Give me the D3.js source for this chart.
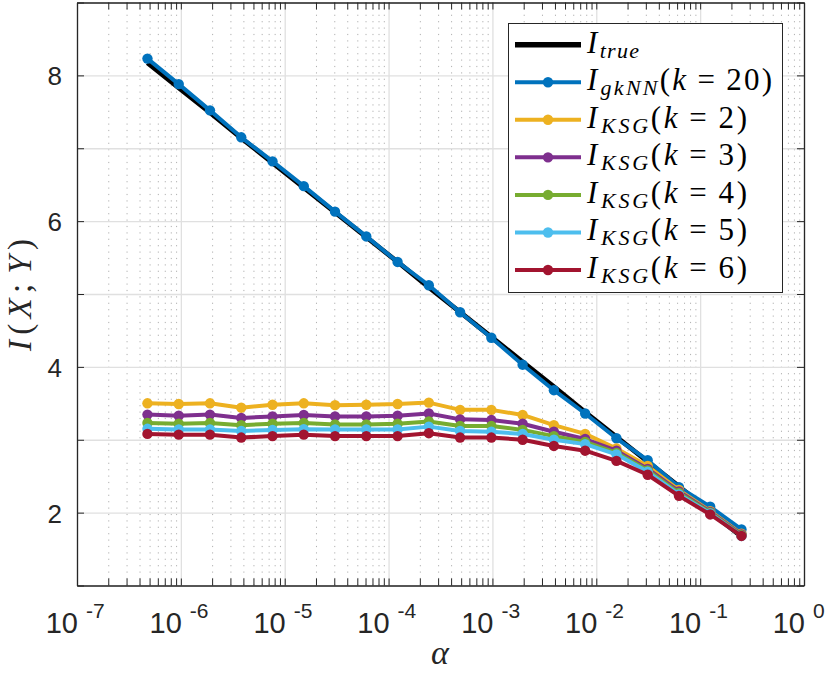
<!DOCTYPE html>
<html><head><meta charset="utf-8">
<script src="https://cdn.jsdelivr.net/npm/d3@7/dist/d3.min.js"></script>
<style>body{margin:0;background:#fff}svg{display:block}</style>
</head><body><svg id="c" width="830" height="673"></svg>
<script>
const alpha = [4.768e-7, 9.537e-7, 1.907e-6, 3.815e-6, 7.629e-6, 1.526e-5, 3.052e-5, 6.104e-5, 1.221e-4, 2.441e-4,
               4.883e-4, 9.766e-4, 1.953e-3, 3.906e-3, 7.813e-3, 1.563e-2, 3.125e-2, 6.25e-2, 0.125, 0.25];
const iTrue = [8.17, 7.83, 7.49, 7.14, 6.80, 6.46, 6.12, 5.78, 5.44, 5.09, 4.75, 4.41, 4.07, 3.73, 3.38, 3.04, 2.70, 2.36, 2.01, 1.67];
const iGkNN = [8.23, 7.88, 7.52, 7.15, 6.82, 6.48, 6.13, 5.79, 5.44, 5.12, 4.75, 4.40, 4.03, 3.68, 3.36, 3.02, 2.72, 2.35, 2.08, 1.77];
const iKSG2 = [3.50, 3.49, 3.50, 3.44, 3.48, 3.50, 3.475, 3.48, 3.49, 3.51, 3.41, 3.41, 3.34, 3.20, 3.08, 2.88, 2.64, 2.31, 2.02, 1.71];
const iKSG3 = [3.345, 3.33, 3.345, 3.30, 3.32, 3.34, 3.32, 3.32, 3.33, 3.36, 3.28, 3.27, 3.22, 3.11, 3.01, 2.85, 2.60, 2.29, 2.01, 1.70];
const iKSG4 = [3.23, 3.22, 3.23, 3.20, 3.22, 3.23, 3.21, 3.21, 3.22, 3.25, 3.19, 3.19, 3.135, 3.05, 2.97, 2.82, 2.58, 2.27, 2.00, 1.69];
const iKSG5 = [3.15, 3.14, 3.14, 3.12, 3.135, 3.145, 3.14, 3.14, 3.14, 3.18, 3.12, 3.11, 3.08, 3.00, 2.94, 2.80, 2.56, 2.25, 1.99, 1.68];
const iKSG6 = [3.08, 3.07, 3.07, 3.03, 3.05, 3.07, 3.05, 3.05, 3.05, 3.09, 3.03, 3.03, 3.00, 2.915, 2.85, 2.71, 2.52, 2.23, 1.975, 1.68];
const xMajor = [1e-7, 1e-6, 1e-5, 1e-4, 1e-3, 1e-2, 1e-1, 1];
const xExp = ["-7", "-6", "-5", "-4", "-3", "-2", "-1", "0"];
const yTicks = [1, 2, 3, 4, 5, 6, 7, 8, 9];
const yLabels = ["", "2", "", "4", "", "6", "", "8", ""];
const seriesNames = [["true", ""], ["gkNN", "20"], ["KSG", "2"], ["KSG", "3"], ["KSG", "4"], ["KSG", "5"], ["KSG", "6"]];
const colors = ["#000000", "#0072BD", "#EDB120", "#7E2F8E", "#77AC30", "#4DBEEE", "#A2142F"];

const L = 77, R = 804, T = 2.5, B = 585.5;
const svg = d3.select("#c");
const x = d3.scaleLog().domain([1e-7, 1]).range([L, R]);
const y = d3.scaleLinear().domain([1, 9]).range([B, T]);

const xMinor = [];
for (let k = -7; k < 0; k++) for (let m = 2; m <= 9; m++) xMinor.push(m * Math.pow(10, k));

// grid
const grid = svg.append("g");
grid.append("g").attr("transform", `translate(0,${B})`)
  .call(d3.axisBottom(x).tickValues(xMinor).tickSize(-(B - T)).tickFormat(""))
  .call(g => g.select(".domain").remove())
  .selectAll("line").attr("stroke", "#b0b0b0").attr("stroke-width", 1).attr("stroke-dasharray", "1.2,5.2");
grid.append("g").attr("transform", `translate(0,${B})`)
  .call(d3.axisBottom(x).tickValues(xMajor).tickSize(-(B - T)).tickFormat(""))
  .call(g => g.select(".domain").remove())
  .selectAll("line").attr("stroke", "#e0e0e0").attr("stroke-width", 1.3);
grid.append("g").attr("transform", `translate(${L},0)`)
  .call(d3.axisLeft(y).tickValues(yTicks).tickSize(-(R - L)).tickFormat(""))
  .call(g => g.select(".domain").remove())
  .selectAll("line").attr("stroke", "#e0e0e0").attr("stroke-width", 1.3);

// data
const all = [iTrue, iGkNN, iKSG2, iKSG3, iKSG4, iKSG5, iKSG6];
const line = d3.line().x((d, i) => x(alpha[i])).y(d => y(d));
const plot = svg.append("g");
all.forEach((s, si) => {
  plot.append("path").datum(s).attr("d", line).attr("fill", "none")
    .attr("stroke", colors[si]).attr("stroke-width", si === 0 ? 4.8 : 4.0)
    .attr("stroke-linejoin", "round");
  if (si > 0) {
    plot.selectAll(null).data(s).enter().append("circle")
      .attr("cx", (d, i) => x(alpha[i])).attr("cy", d => y(d)).attr("r", 5.2)
      .attr("fill", colors[si]);
  }
});

// axes
const axc = "#262626";
function styleAx(g) { g.selectAll("line").attr("stroke", axc); g.select(".domain").attr("stroke", axc).attr("stroke-width", 1.3); }
const allX = xMajor.concat(xMinor);
svg.append("g").attr("transform", `translate(0,${B})`)
  .call(d3.axisBottom(x).tickValues(allX).tickSizeInner(-7).tickSizeOuter(0).tickFormat("")).call(styleAx);
svg.append("g").attr("transform", `translate(0,${T})`)
  .call(d3.axisTop(x).tickValues(allX).tickSizeInner(-7).tickSizeOuter(0).tickFormat("")).call(styleAx);
svg.append("g").attr("transform", `translate(${L},0)`)
  .call(d3.axisLeft(y).tickValues(yTicks).tickSizeInner(-7).tickSizeOuter(0).tickFormat("")).call(styleAx);
svg.append("g").attr("transform", `translate(${R},0)`)
  .call(d3.axisRight(y).tickValues(yTicks).tickSizeInner(-7).tickSizeOuter(0).tickFormat("")).call(styleAx);

// tick labels
const tl = svg.append("g").attr("font-family", "Liberation Sans, Arial, sans-serif").attr("fill", "#262626");
xMajor.forEach((v, i) => {
  tl.append("text").attr("x", x(v) + 1).attr("y", 633).attr("text-anchor", "end").attr("font-size", 29).text("10");
  tl.append("text").attr("x", x(v) + 9).attr("y", 618).attr("text-anchor", "start").attr("font-size", 21).text(xExp[i]);
});
yTicks.forEach((v, i) => {
  if (yLabels[i]) tl.append("text").attr("x", 62).attr("y", y(v) + 10).attr("text-anchor", "end").attr("font-size", 26).text(yLabels[i]);
});

// axis labels
const serif = "Liberation Serif, Times New Roman, serif";
svg.append("text").attr("x", 440).attr("y", 664).attr("text-anchor", "middle")
  .attr("font-family", serif).attr("font-style", "italic").attr("font-size", 34).attr("fill", "#262626").text("α");
const yl = svg.append("text").attr("transform", "translate(31,295) rotate(-90)").attr("text-anchor", "middle")
  .attr("font-family", serif).attr("font-size", 33).attr("fill", "#262626")
  .attr("textLength", 112).attr("lengthAdjust", "spacing");
yl.append("tspan").attr("font-style", "italic").text("I");
yl.append("tspan").text("(");
yl.append("tspan").attr("font-style", "italic").text("X");
yl.append("tspan").text(";");
yl.append("tspan").attr("font-style", "italic").attr("dx", 5).text("Y");
yl.append("tspan").text(")");

// legend
const lg = svg.append("g");
lg.append("rect").attr("x", 508.5).attr("y", 23.5).attr("width", 274).attr("height", 269)
  .attr("fill", "#fff").attr("stroke", axc).attr("stroke-width", 1);
const lenTarget = [52, 185, 160, 160, 160, 160, 160];
seriesNames.forEach((nm, i) => {
  const ly = 44.7 + i * 37.55;
  lg.append("line").attr("x1", 515).attr("x2", 581).attr("y1", ly).attr("y2", ly)
    .attr("stroke", colors[i]).attr("stroke-width", i === 0 ? 5.5 : 4.0);
  if (i > 0) lg.append("circle").attr("cx", 548).attr("cy", ly).attr("r", 5.2).attr("fill", colors[i]);
  const t = lg.append("text").attr("x", 587).attr("y", ly + 8).attr("font-family", serif)
    .attr("font-size", 31).attr("fill", "#000")
    .attr("textLength", lenTarget[i]).attr("lengthAdjust", "spacing");
  t.append("tspan").attr("font-style", "italic").text("I");
  t.append("tspan").attr("font-style", "italic").attr("font-size", 22).attr("dy", 5).attr("dx", 1).text(nm[0]);
  if (nm[1]) {
    t.append("tspan").attr("dy", -5).text("(");
    t.append("tspan").attr("font-style", "italic").text("k");
    t.append("tspan").attr("dx", 9).text("=");
    t.append("tspan").attr("dx", 9).text(nm[1]);
    t.append("tspan").text(")");
  }
});
</script></body></html>
